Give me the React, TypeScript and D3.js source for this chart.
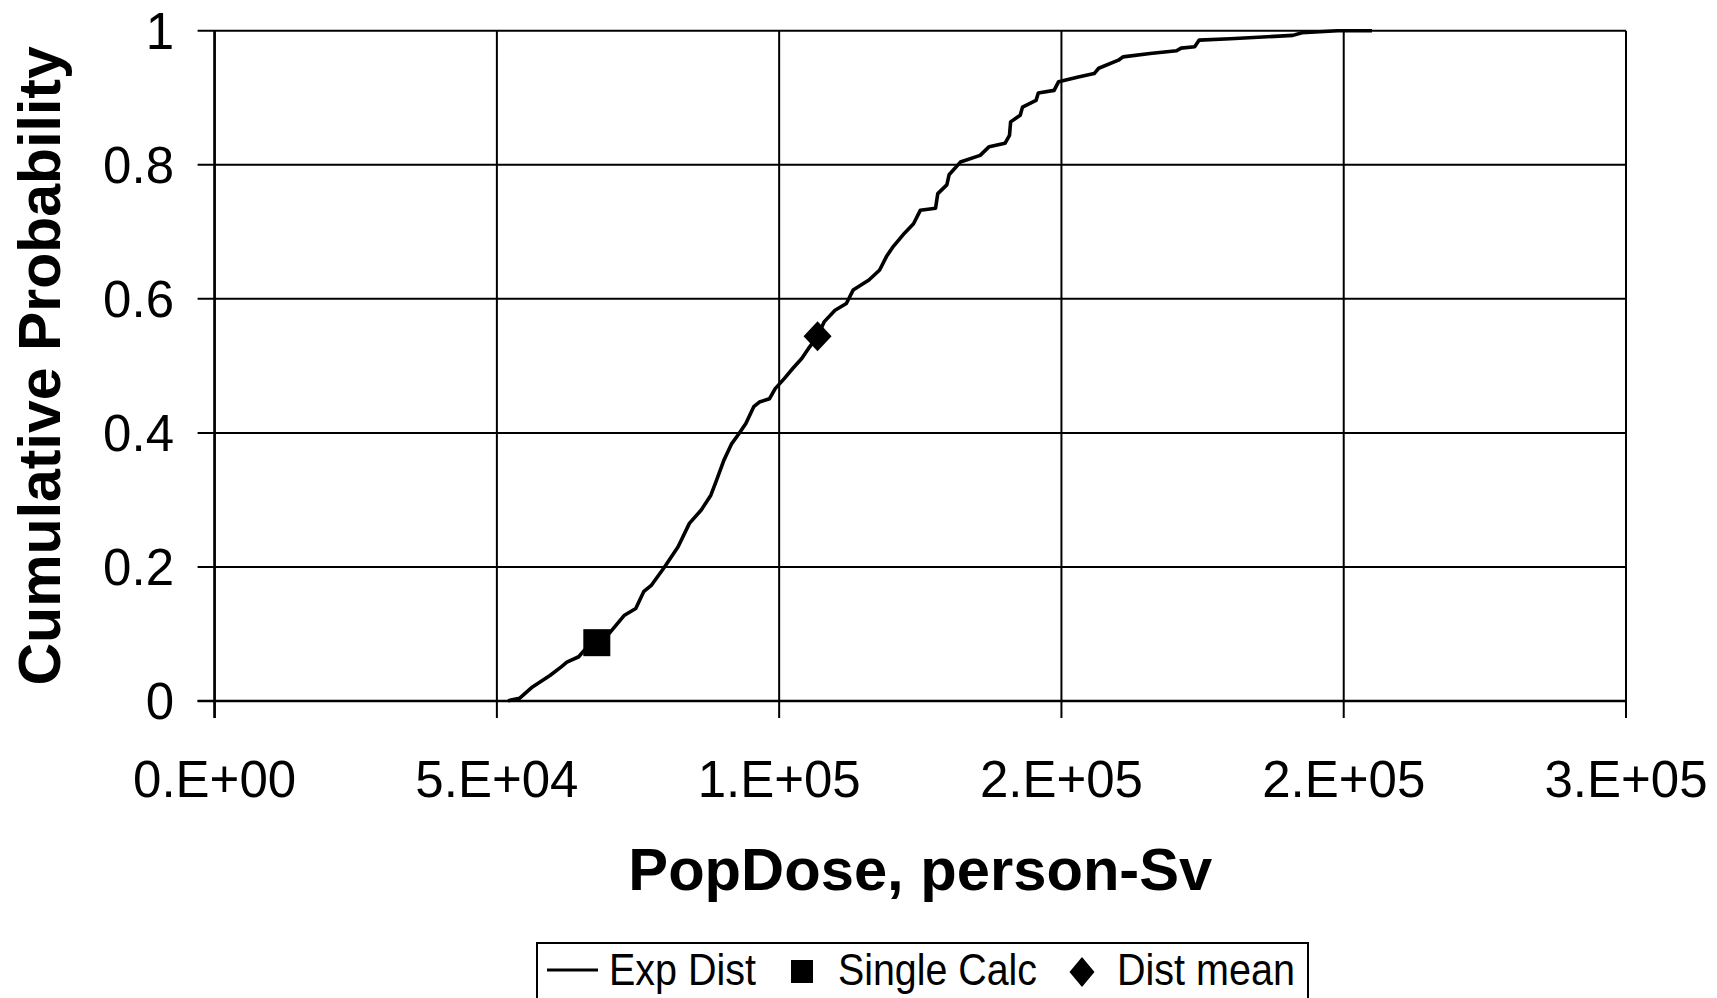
import React from "react";
import * as d3 from "d3";

const doseValues = [52000, 52300, 54000, 56300, 59400, 61400, 62400, 64500, 65500, 67700, 69900, 72600, 74600, 76000, 77400, 79700, 82100, 84100, 86200, 87900, 88900, 90200, 91600, 92900, 94100, 95500, 96500, 98300, 99300, 100900, 102400, 104000, 105200, 106800, 108000, 109900, 111900, 113100, 115900, 117800, 119000, 120200, 122200, 123800, 125000, 127700, 128100, 129700, 130100, 132100, 135600, 137200, 140000, 140800, 141000, 142700, 143100, 145500, 145900, 148700, 149500, 153000, 155800, 156600, 160100, 160900, 165700, 170400, 171200, 173600, 174400, 179900, 191000, 192600, 198900, 205000];
const probValues = [0, 0.001, 0.004, 0.021, 0.038, 0.051, 0.058, 0.066, 0.076, 0.087, 0.101, 0.128, 0.138, 0.163, 0.173, 0.2, 0.23, 0.265, 0.285, 0.307, 0.329, 0.359, 0.384, 0.399, 0.414, 0.439, 0.446, 0.451, 0.466, 0.481, 0.496, 0.511, 0.526, 0.544, 0.566, 0.583, 0.593, 0.613, 0.628, 0.643, 0.663, 0.678, 0.698, 0.712, 0.732, 0.735, 0.757, 0.77, 0.785, 0.804, 0.814, 0.827, 0.832, 0.844, 0.864, 0.874, 0.886, 0.896, 0.907, 0.911, 0.924, 0.931, 0.936, 0.944, 0.956, 0.961, 0.966, 0.97, 0.974, 0.976, 0.986, 0.988, 0.993, 0.997, 1.0, 1.0];

const singleCalc = [{ dose: 67700, prob: 0.087 }];
const distMean = [{ dose: 106800, prob: 0.544 }];

const xTicks = [0, 50000, 100000, 150000, 200000, 250000];
const xTickLabels = ["0.E+00", "5.E+04", "1.E+05", "2.E+05", "2.E+05", "3.E+05"];
const yTicks = [0, 0.2, 0.4, 0.6, 0.8, 1];
const yTickLabels = ["0", "0.2", "0.4", "0.6", "0.8", "1"];
const legendLabels = ["Exp Dist", "Single Calc", "Dist mean"];

const W = 1717;
const H = 998;
const FONT = "'Liberation Sans', Arial, Helvetica, sans-serif";

function diamondPath(cx: number, cy: number, hw: number, hh: number) {
  const p = d3.path();
  p.moveTo(cx, cy - hh);
  p.lineTo(cx + hw, cy);
  p.lineTo(cx, cy + hh);
  p.lineTo(cx - hw, cy);
  p.closePath();
  return p.toString();
}

export default function App() {
  const x = d3.scaleLinear().domain([0, 250000]).range([214.6, 1626]);
  const y = d3.scaleLinear().domain([0, 1]).range([701, 30.7]);
  const pts = doseValues.map((d, i) => [d, probValues[i]] as [number, number]);
  const line = d3
    .line<[number, number]>()
    .x((d) => x(d[0]))
    .y((d) => y(d[1]));
  const tick = 17;

  return (
    <svg
      width={W}
      height={H}
      viewBox={`0 0 ${W} ${H}`}
      style={{ position: "absolute", left: 0, top: 0, background: "#fff" }}
      fontFamily={FONT}
    >
      <rect x={0} y={0} width={W} height={H} fill="#fff" />
      {yTicks.map((t) => (
        <line
          key={"hy" + t}
          x1={x(0) - tick}
          x2={x(250000)}
          y1={y(t)}
          y2={y(t)}
          stroke="#000"
          strokeWidth={2}
        />
      ))}
      {xTicks.map((t) => (
        <line
          key={"vx" + t}
          x1={x(t)}
          x2={x(t)}
          y1={y(1)}
          y2={y(0) + tick}
          stroke="#000"
          strokeWidth={2}
        />
      ))}
      <line x1={x(0)} x2={x(0)} y1={y(1)} y2={y(0) + tick} stroke="#000" strokeWidth={2.5} />
      <line x1={x(0) - tick} x2={x(250000)} y1={y(0)} y2={y(0)} stroke="#000" strokeWidth={2.5} />

      {yTicks.map((t, i) => (
        <text
          key={"yl" + t}
          x={174}
          y={y(t)}
          dy="0.36em"
          textAnchor="end"
          fontSize={51}
          fill="#000"
        >
          {yTickLabels[i]}
        </text>
      ))}
      {xTicks.map((t, i) => (
        <text
          key={"xl" + t}
          x={x(t)}
          y={797}
          textAnchor="middle"
          fontSize={51}
          fill="#000"
        >
          {xTickLabels[i]}
        </text>
      ))}

      <path d={line(pts) || ""} fill="none" stroke="#000" strokeWidth={3.6} strokeLinejoin="round" />

      {singleCalc.map((d, i) => (
        <rect
          key={"sq" + i}
          x={x(d.dose) - 13.5}
          y={y(d.prob) - 13.5}
          width={27}
          height={27}
          fill="#000"
        />
      ))}
      {distMean.map((d, i) => (
        <path key={"dm" + i} d={diamondPath(x(d.dose), y(d.prob), 14, 15)} fill="#000" />
      ))}

      <text
        x={(x(0) + x(250000)) / 2}
        y={890}
        textAnchor="middle"
        fontSize={59}
        fontWeight="bold"
        fill="#000"
        textLength={584}
        lengthAdjust="spacingAndGlyphs"
      >
        PopDose, person-Sv
      </text>
      <text
        transform={`translate(60,${(y(0) + y(1)) / 2}) rotate(-90)`}
        textAnchor="middle"
        fontSize={59}
        fontWeight="bold"
        fill="#000"
      >
        Cumulative Probability
      </text>

      <rect x={537} y={943} width={771} height={80} fill="#fff" stroke="#000" strokeWidth={2} />
      <line x1={547} x2={598} y1={970} y2={970} stroke="#000" strokeWidth={3} />
      <text x={609} y={985} fontSize={44} fill="#000" textLength={147} lengthAdjust="spacingAndGlyphs">
        {legendLabels[0]}
      </text>
      <rect x={791} y={960} width={22} height={23} fill="#000" />
      <text x={838} y={985} fontSize={44} fill="#000" textLength={199} lengthAdjust="spacingAndGlyphs">
        {legendLabels[1]}
      </text>
      <path d={diamondPath(1082, 972, 12.5, 15)} fill="#000" />
      <text x={1117} y={985} fontSize={44} fill="#000" textLength={178} lengthAdjust="spacingAndGlyphs">
        {legendLabels[2]}
      </text>
    </svg>
  );
}
